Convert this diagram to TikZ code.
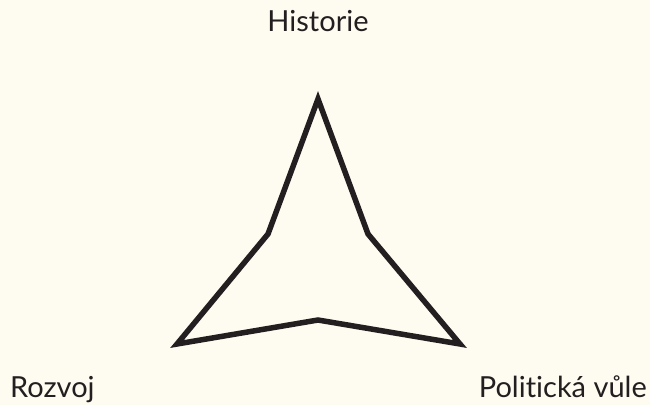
\documentclass[tikz,border=0pt]{standalone}
\usepackage{fontspec}
\setmainfont{Lato}[Ligatures={NoCommon,NoRare}]
\usepackage{tikz}
\usetikzlibrary{positioning}
\definecolor{paper}{HTML}{FEFCF0}
\definecolor{ink}{HTML}{231F20}

\begin{document}
\begin{tikzpicture}[
    x=1pt, y=1pt,
    lbl/.style={font=\fontsize{29}{33}\selectfont, text=ink, inner sep=0pt},
    star/.style={draw=ink, line width=5.5pt, line join=miter}
]
\fill[paper] (0,0) rectangle (650,405);
\useasboundingbox (0,0) rectangle (650,405);
% corners of the star
\coordinate (top) at (318,306);
\coordinate (innerR) at (368,171);
\coordinate (right) at (460,61);
\coordinate (innerB) at (318,85);
\coordinate (left) at (177,61);
\coordinate (innerL) at (268,171);
\draw[star] (top) -- (innerR) -- (right) -- (innerB) -- (left) -- (innerL) -- cycle;
% labels
\node[lbl, anchor=base] (hist) at (318,373.3) {Historie};
\node[lbl, anchor=base west] (rozv) at (10,7.3) {Rozvoj};
\node[lbl, anchor=base east] (pol) at (647,7.3) {Politická vůle};
\end{tikzpicture}
\end{document}
